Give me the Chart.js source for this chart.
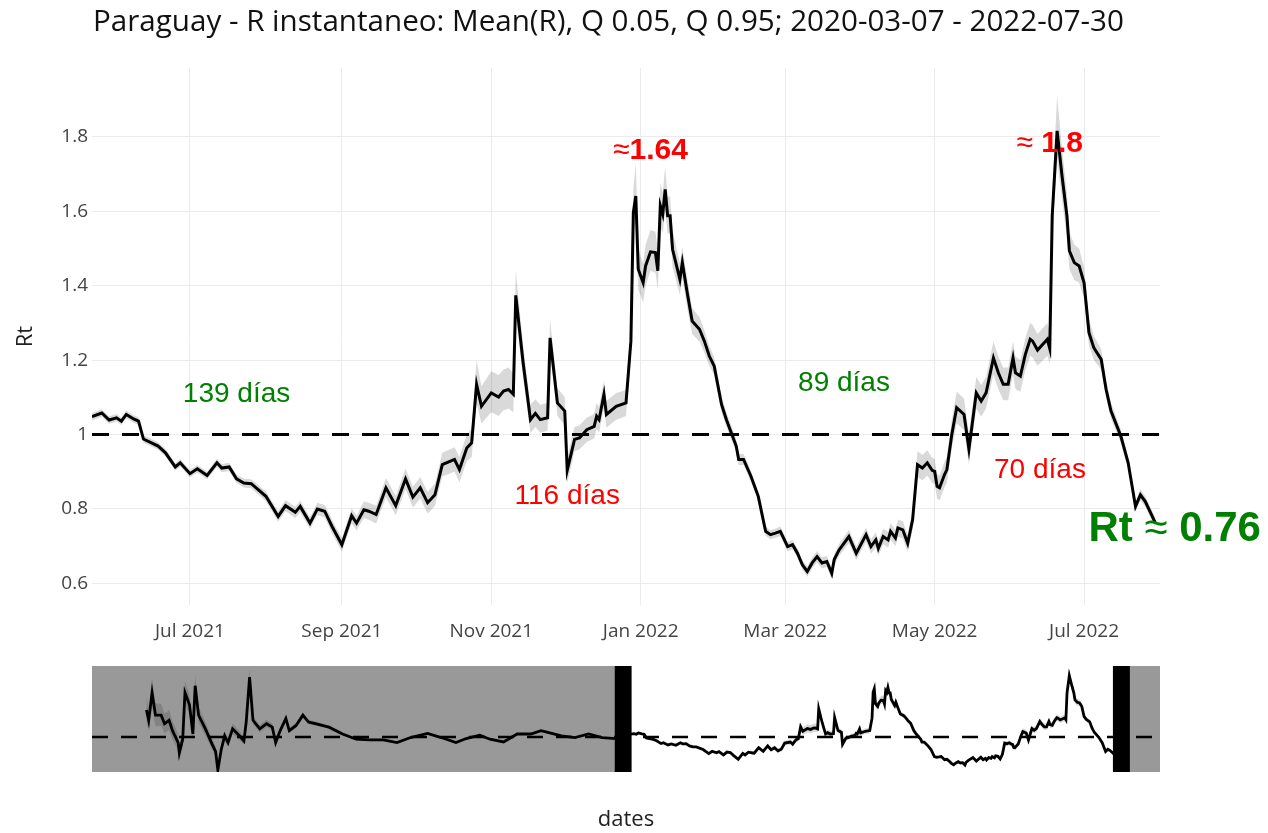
<!DOCTYPE html>
<html>
<head>
<meta charset="utf-8">
<title>Paraguay - R instantaneo</title>
<script src="https://cdn.jsdelivr.net/npm/chart.js@4.4.1/dist/chart.umd.min.js"></script>
<style>
  html, body { margin: 0; padding: 0; background: #fff; }
  #wrap { position: relative; width: 1268px; height: 833px; }
  #mainChart { position: absolute; left: 0; top: 0; }
  #sliderChart { position: absolute; left: 0; top: 650px; }
  #title { position: absolute; left: 93px; top: 2px; line-height: 36px; font-family: "Open Sans", sans-serif; font-size: 29.6px; color: #111; white-space: nowrap; }
</style>
</head>
<body>
<div id="wrap">
  <canvas id="mainChart" width="1268" height="650"></canvas>
  <canvas id="sliderChart" width="1268" height="183"></canvas>
  <div id="title">Paraguay - R instantaneo: Mean(R), Q 0.05, Q 0.95; 2020-03-07 - 2022-07-30</div>
</div>
<script>
// R instantaneo, ventana visible (mayo 2021 - julio 2022)
const mainDates = [
  '2021-05-22','2021-05-26','2021-05-29','2021-06-01','2021-06-03','2021-06-05','2021-06-08','2021-06-10','2021-06-12','2021-06-18',
  '2021-06-21','2021-06-25','2021-06-27','2021-07-01','2021-07-04','2021-07-08','2021-07-12','2021-07-14','2021-07-17','2021-07-20',
  '2021-07-23','2021-07-26','2021-08-01','2021-08-06','2021-08-09','2021-08-13','2021-08-15','2021-08-19','2021-08-22','2021-08-25',
  '2021-08-28','2021-09-01','2021-09-05','2021-09-07','2021-09-10','2021-09-12','2021-09-15','2021-09-19','2021-09-23','2021-09-27',
  '2021-09-30','2021-10-03','2021-10-06','2021-10-09','2021-10-12','2021-10-17','2021-10-19','2021-10-22','2021-10-24','2021-10-26',
  '2021-10-28','2021-11-01','2021-11-04','2021-11-06','2021-11-08','2021-11-10','2021-11-11','2021-11-14','2021-11-17','2021-11-19',
  '2021-11-21','2021-11-24','2021-11-25','2021-11-28','2021-12-01','2021-12-02','2021-12-05','2021-12-07','2021-12-10','2021-12-13',
  '2021-12-14','2021-12-15','2021-12-17','2021-12-18','2021-12-22','2021-12-26','2021-12-28','2021-12-29','2021-12-30','2021-12-31',
  '2022-01-02','2022-01-03','2022-01-05','2022-01-07','2022-01-08','2022-01-09','2022-01-10','2022-01-11','2022-01-12','2022-01-13',
  '2022-01-14','2022-01-17','2022-01-18','2022-01-20','2022-01-22','2022-01-25','2022-01-27','2022-01-29','2022-01-31','2022-02-03',
  '2022-02-05','2022-02-09','2022-02-10','2022-02-12','2022-02-15','2022-02-18','2022-02-21','2022-02-23','2022-02-25','2022-02-27',
  '2022-03-02','2022-03-04','2022-03-06','2022-03-08','2022-03-10','2022-03-12','2022-03-14','2022-03-16','2022-03-18','2022-03-20',
  '2022-03-21','2022-03-23','2022-03-27','2022-03-30','2022-04-03','2022-04-05','2022-04-07','2022-04-08','2022-04-10','2022-04-12',
  '2022-04-13','2022-04-15','2022-04-16','2022-04-18','2022-04-20','2022-04-22','2022-04-24','2022-04-26','2022-04-28','2022-04-30',
  '2022-05-01','2022-05-02','2022-05-03','2022-05-05','2022-05-06','2022-05-08','2022-05-10','2022-05-13','2022-05-15','2022-05-18',
  '2022-05-20','2022-05-22','2022-05-25','2022-05-27','2022-05-29','2022-05-31','2022-06-02','2022-06-03','2022-06-05','2022-06-07',
  '2022-06-09','2022-06-10','2022-06-12','2022-06-16','2022-06-17','2022-06-18','2022-06-20','2022-06-22','2022-06-24','2022-06-25',
  '2022-06-27','2022-06-29','2022-07-01','2022-07-03','2022-07-05','2022-07-08','2022-07-10','2022-07-12','2022-07-16','2022-07-19',
  '2022-07-22','2022-07-24','2022-07-26','2022-07-30'
];
const meanR = [
  1.048,1.058,1.039,1.045,1.036,1.054,1.042,1.036,0.988,0.969,
  0.951,0.913,0.924,0.895,0.908,0.890,0.924,0.910,0.913,0.881,
  0.870,0.868,0.834,0.780,0.809,0.791,0.807,0.762,0.800,0.794,
  0.753,0.704,0.782,0.762,0.798,0.794,0.785,0.857,0.809,0.881,
  0.832,0.857,0.817,0.838,0.919,0.933,0.906,0.964,0.978,1.135,
  1.076,1.112,1.101,1.117,1.121,1.108,1.374,1.193,1.040,1.057,
  1.040,1.045,1.260,1.085,1.063,0.904,0.987,0.991,1.013,1.022,
  1.049,1.040,1.108,1.054,1.076,1.085,1.251,1.597,1.641,1.444,
  1.408,1.453,1.491,1.489,1.440,1.615,1.592,1.659,1.588,1.588,
  1.498,1.417,1.462,1.381,1.305,1.283,1.251,1.211,1.184,1.081,
  1.040,0.969,0.933,0.933,0.888,0.834,0.740,0.731,0.735,0.740,
  0.699,0.704,0.681,0.650,0.632,0.655,0.672,0.655,0.659,0.627,
  0.664,0.690,0.726,0.681,0.731,0.699,0.717,0.694,0.726,0.717,
  0.740,0.722,0.749,0.744,0.708,0.771,0.919,0.910,0.924,0.904,
  0.901,0.861,0.857,0.892,0.906,1.000,1.072,1.054,0.961,1.112,
  1.090,1.112,1.206,1.166,1.135,1.135,1.206,1.166,1.157,1.215,
  1.256,1.251,1.227,1.256,1.231,1.588,1.816,1.695,1.588,1.494,
  1.462,1.453,1.408,1.274,1.233,1.202,1.121,1.063,0.996,0.924,
  0.807,0.838,0.820,0.764
];
const q05 = [
  1.038,1.048,1.029,1.035,1.026,1.044,1.032,1.026,0.978,0.959,
  0.941,0.903,0.914,0.885,0.898,0.880,0.913,0.899,0.902,0.870,
  0.858,0.856,0.821,0.766,0.794,0.776,0.791,0.746,0.783,0.777,
  0.735,0.686,0.762,0.742,0.776,0.771,0.761,0.831,0.783,0.853,
  0.804,0.828,0.788,0.808,0.887,0.900,0.872,0.928,0.940,1.085,
  1.030,1.060,1.050,1.065,1.070,1.060,1.320,1.150,1.005,1.020,
  1.005,1.010,1.220,1.050,1.025,0.870,0.955,0.960,0.980,0.990,
  1.015,1.005,1.070,1.018,1.040,1.050,1.210,1.540,1.580,1.390,
  1.355,1.400,1.440,1.435,1.390,1.560,1.540,1.600,1.540,1.540,
  1.450,1.375,1.420,1.340,1.270,1.250,1.220,1.185,1.160,1.060,
  1.020,0.952,0.918,0.918,0.874,0.821,0.728,0.719,0.723,0.727,
  0.686,0.691,0.668,0.637,0.618,0.641,0.657,0.640,0.644,0.612,
  0.648,0.674,0.708,0.663,0.712,0.680,0.697,0.674,0.705,0.696,
  0.718,0.700,0.726,0.721,0.685,0.745,0.885,0.877,0.890,0.870,
  0.867,0.828,0.823,0.858,0.871,0.963,1.030,1.012,0.920,1.070,
  1.048,1.070,1.162,1.122,1.092,1.092,1.162,1.122,1.115,1.172,
  1.212,1.207,1.185,1.212,1.190,1.530,1.740,1.630,1.530,1.445,
  1.415,1.408,1.365,1.240,1.200,1.175,1.098,1.042,0.978,0.908,
  0.794,0.823,0.806,0.750
];
const q95 = [
  1.058,1.068,1.049,1.055,1.046,1.064,1.052,1.046,0.998,0.979,
  0.961,0.923,0.934,0.905,0.918,0.900,0.935,0.921,0.924,0.892,
  0.882,0.880,0.847,0.794,0.824,0.806,0.823,0.778,0.817,0.811,
  0.771,0.722,0.802,0.782,0.820,0.817,0.809,0.883,0.835,0.909,
  0.860,0.886,0.846,0.868,0.951,0.966,0.940,1.000,1.016,1.200,
  1.130,1.170,1.160,1.175,1.180,1.165,1.440,1.240,1.080,1.095,
  1.080,1.085,1.310,1.125,1.100,0.940,1.020,1.025,1.045,1.055,
  1.085,1.075,1.145,1.090,1.112,1.120,1.295,1.660,1.730,1.500,
  1.460,1.510,1.550,1.545,1.495,1.675,1.650,1.720,1.640,1.640,
  1.550,1.460,1.505,1.420,1.340,1.315,1.280,1.238,1.208,1.102,
  1.060,0.986,0.948,0.948,0.902,0.847,0.752,0.743,0.747,0.753,
  0.712,0.717,0.694,0.663,0.646,0.669,0.687,0.670,0.674,0.642,
  0.680,0.706,0.744,0.699,0.750,0.718,0.737,0.714,0.747,0.738,
  0.762,0.744,0.772,0.767,0.731,0.797,0.955,0.945,0.958,0.938,
  0.935,0.895,0.890,0.926,0.941,1.040,1.115,1.097,1.003,1.155,
  1.133,1.155,1.250,1.210,1.180,1.180,1.250,1.210,1.200,1.258,
  1.300,1.295,1.270,1.300,1.275,1.650,1.910,1.770,1.650,1.545,
  1.510,1.500,1.450,1.310,1.265,1.230,1.145,1.085,1.014,0.940,
  0.820,0.853,0.834,0.778
];

// serie anterior (solo visible en el selector de rango)
const earlyDates = [
  '2020-03-28','2020-03-30','2020-04-02','2020-04-05','2020-04-10','2020-04-13','2020-04-17','2020-04-20','2020-04-25','2020-04-26',
  '2020-04-29','2020-05-01','2020-05-05','2020-05-08','2020-05-10','2020-05-13','2020-05-19','2020-05-25','2020-05-28','2020-05-30',
  '2020-06-02','2020-06-05','2020-06-08','2020-06-12','2020-06-18','2020-06-22','2020-06-24','2020-06-27','2020-06-30','2020-07-06',
  '2020-07-12','2020-07-17','2020-07-20','2020-07-24','2020-07-29','2020-08-01','2020-08-07','2020-08-13','2020-08-18','2020-08-24',
  '2020-09-05','2020-09-17','2020-09-29','2020-10-11','2020-10-23','2020-11-04','2020-11-16','2020-12-01','2020-12-13','2020-12-26',
  '2021-01-04','2021-01-16','2021-01-25','2021-02-06','2021-02-18','2021-03-02','2021-03-11','2021-03-17','2021-03-29','2021-04-10',
  '2021-04-22','2021-05-04','2021-05-16'
];
const earlyMean = [
  1.360,1.222,1.589,1.291,1.291,1.177,1.222,1.085,0.926,0.787,
  0.971,1.589,1.428,1.040,1.681,1.291,1.108,0.902,0.810,0.560,
  0.834,1.016,0.926,1.108,1.016,0.948,1.199,1.795,1.222,1.108,
  1.177,1.131,0.926,1.085,1.246,1.085,1.154,1.291,1.199,1.177,
  1.131,1.040,0.971,0.961,0.961,0.926,0.993,1.049,0.993,0.926,
  0.980,1.025,0.971,0.934,1.040,1.040,1.085,1.061,1.016,0.993,
  1.040,0.993,0.980
];
const earlyQ05 = [
  1.200,1.080,1.400,1.140,1.150,1.050,1.090,0.970,0.820,0.690,
  0.870,1.450,1.300,0.950,1.550,1.190,1.020,0.830,0.740,0.540,
  0.770,0.950,0.870,1.040,0.960,0.900,1.140,1.700,1.170,1.060,
  1.130,1.090,0.890,1.050,1.200,1.050,1.120,1.250,1.170,1.150,
  1.110,1.020,0.955,0.945,0.945,0.910,0.977,1.033,0.977,0.910,
  0.965,1.010,0.956,0.919,1.025,1.025,1.070,1.046,1.003,0.980,
  1.028,0.982,0.970
];
const earlyQ95 = [
  1.550,1.380,1.780,1.450,1.440,1.310,1.360,1.210,1.040,0.890,
  1.080,1.740,1.560,1.140,1.820,1.400,1.200,0.980,0.880,0.600,
  0.900,1.080,0.990,1.180,1.080,1.000,1.260,1.900,1.280,1.160,
  1.230,1.180,0.970,1.120,1.290,1.120,1.190,1.330,1.230,1.210,
  1.150,1.060,0.987,0.977,0.977,0.942,1.009,1.065,1.009,0.942,
  0.995,1.040,0.986,0.949,1.055,1.055,1.100,1.076,1.029,1.006,
  1.052,1.004,0.990
];

const refLevel = 1;
const viewRange = ['2021-05-22', '2022-08-01'];
const sliderRange = ['2020-02-09', '2022-09-08'];
const xTickDates = ['2021-07-01','2021-09-01','2021-11-01','2022-01-01','2022-03-01','2022-05-01','2022-07-01'];
const xTickLabels = ['Jul 2021','Sep 2021','Nov 2021','Jan 2022','Mar 2022','May 2022','Jul 2022'];
const yTicks = [0.6, 0.8, 1, 1.2, 1.4, 1.6, 1.8];
const yTickLabels = ['0.6','0.8','1','1.2','1.4','1.6','1.8'];

// anotaciones (texto, fecha y valor de anclaje)
const annoText = ['139 días', '116 días', '89 días', '70 días', '≈1.64', '≈ 1.8', 'Rt ≈ 0.76'];
const annoDate = ['2021-07-20', '2021-12-02', '2022-03-25', '2022-06-13', '2022-01-05', '2022-06-17', '2022-08-07'];
const annoValue = [1.108, 0.833, 1.137, 0.903, 1.762, 1.781, 0.744];

const GREEN = '#008000';
const RED = '#ff0000';
const annoStyle = [
  { color: GREEN, size: 28, bold: false },
  { color: RED, size: 28, bold: false },
  { color: GREEN, size: 28, bold: false },
  { color: RED, size: 28, bold: false },
  { color: RED, size: 30, bold: true },
  { color: RED, size: 30, bold: true },
  { color: GREEN, size: 42, bold: true }
];

const ARIAL = '"Liberation Sans", Arial, sans-serif';
const OPEN = '"Open Sans", sans-serif';

function day(s) {
  return Date.UTC(+s.slice(0, 4), +s.slice(5, 7) - 1, +s.slice(8, 10)) / 864e5;
}
function pts(dates, vals) {
  return dates.map((d, i) => ({ x: day(d), y: vals[i] }));
}

// dibuja las anotaciones; el signo ≈ va sin negrita
const annotationPlugin = {
  id: 'annotations',
  afterDraw(chart) {
    const ctx = chart.ctx;
    const xs = chart.scales.x, ys = chart.scales.y;
    ctx.save();
    ctx.textBaseline = 'middle';
    ctx.textAlign = 'left';
    annoText.forEach((txt, i) => {
      const st = annoStyle[i];
      const cx = xs.getPixelForValue(day(annoDate[i]));
      const cy = ys.getPixelForValue(annoValue[i]);
      const parts = txt.split(/(≈)/).filter(p => p.length);
      const fonts = parts.map(p => ((st.bold && p !== '≈') ? 'bold ' : '') + st.size + 'px ' + ARIAL);
      let total = 0;
      const widths = parts.map((p, k) => { ctx.font = fonts[k]; const w = ctx.measureText(p).width; total += w; return w; });
      let x = cx - total / 2;
      ctx.fillStyle = st.color;
      parts.forEach((p, k) => { ctx.font = fonts[k]; ctx.fillText(p, x, cy); x += widths[k]; });
    });
    ctx.restore();
  }
};

new Chart(document.getElementById('mainChart'), {
  type: 'line',
  data: {
    datasets: [{
      label: 'Q 0.95',
      data: pts(mainDates, q95),
      borderColor: 'rgba(0,0,0,0)',
      borderWidth: 1,
      backgroundColor: 'rgba(0,0,0,0.15)',
      pointRadius: 0,
      fill: '+1',
      order: 3
    }, {
      label: 'Q 0.05',
      data: pts(mainDates, q05),
      borderColor: 'rgba(0,0,0,0)',
      borderWidth: 1,
      pointRadius: 0,
      fill: false,
      order: 2
    }, {
      label: 'Mean(R)',
      data: pts(mainDates, meanR),
      borderColor: '#000',
      borderWidth: 3,
      pointRadius: 0,
      fill: false,
      order: 1
    }, {
      label: 'R = 1',
      data: [{ x: day(viewRange[0]), y: refLevel }, { x: day(viewRange[1]), y: refLevel }],
      borderColor: '#000',
      borderWidth: 3,
      borderDash: [17, 13],
      pointRadius: 0,
      fill: false,
      order: 0
    }]
  },
  options: {
    responsive: false,
    animation: false,
    devicePixelRatio: 1,
    layout: { padding: { left: 0, right: 108, top: 68, bottom: 0 } },
    plugins: { legend: { display: false }, tooltip: { enabled: false }, title: { display: false } },
    scales: {
      x: {
        type: 'linear',
        min: day(viewRange[0]),
        max: day(viewRange[1]),
        afterBuildTicks: s => { s.ticks = xTickDates.map(d => ({ value: day(d) })); },
        afterFit: s => { s.height = 45; },
        ticks: {
          callback: (v, i) => xTickLabels[i],
          color: '#444',
          font: { family: OPEN, size: 19 },
          padding: 15,
          maxRotation: 0,
          autoSkip: false
        },
        grid: { color: '#ebebeb', drawTicks: false },
        border: { display: false }
      },
      y: {
        min: 0.542,
        max: 1.985,
        afterBuildTicks: s => { s.ticks = yTicks.map(v => ({ value: v })); },
        afterFit: s => { s.width = 92; },
        ticks: {
          callback: (v, i) => yTickLabels[i],
          color: '#444',
          font: { family: OPEN, size: 19 },
          padding: 4
        },
        grid: { color: '#ebebeb', drawTicks: false },
        border: { display: false },
        title: {
          display: true,
          text: 'Rt',
          color: '#222',
          font: { family: OPEN, size: 22 },
          padding: { top: 13, bottom: 0 }
        }
      }
    }
  },
  plugins: [annotationPlugin]
});

// selector de rango: zona gris fuera de la ventana y asas negras
const HANDLE_W = 17;
const sliderPlugin = {
  id: 'rangeMask',
  handles(chart) {
    const xs = chart.scales.x;
    const l = xs.getPixelForValue(day(viewRange[0])) - 8;
    const r = xs.getPixelForValue(day(viewRange[1])) - 4;
    return [l, r];
  },
  beforeDatasetsDraw(chart) {
    const { ctx, chartArea: a } = chart;
    const [l, r] = this.handles(chart);
    ctx.save();
    ctx.fillStyle = '#999999';
    ctx.fillRect(a.left, a.top, l - a.left, a.bottom - a.top);
    ctx.fillRect(r + HANDLE_W, a.top, a.right - r - HANDLE_W, a.bottom - a.top);
    ctx.restore();
  },
  afterDatasetsDraw(chart) {
    const { ctx, chartArea: a } = chart;
    ctx.save();
    ctx.fillStyle = '#000';
    this.handles(chart).forEach(p => ctx.fillRect(p, a.top, HANDLE_W, a.bottom - a.top));
    ctx.restore();
  }
};

const allDates = earlyDates.concat(mainDates);
new Chart(document.getElementById('sliderChart'), {
  type: 'line',
  data: {
    datasets: [{
      data: pts(allDates, earlyQ95.concat(q95)),
      borderColor: 'rgba(0,0,0,0)',
      borderWidth: 1,
      backgroundColor: 'rgba(0,0,0,0.15)',
      pointRadius: 0,
      fill: '+1',
      order: 3
    }, {
      data: pts(allDates, earlyQ05.concat(q05)),
      borderColor: 'rgba(0,0,0,0)',
      borderWidth: 1,
      pointRadius: 0,
      fill: false,
      order: 2
    }, {
      data: pts(allDates, earlyMean.concat(meanR)),
      borderColor: '#000',
      borderWidth: 2.8,
      pointRadius: 0,
      fill: false,
      order: 1
    }, {
      data: [{ x: day(sliderRange[0]), y: refLevel }, { x: day(sliderRange[1]), y: refLevel }],
      borderColor: '#000',
      borderWidth: 2.5,
      borderDash: [16, 13],
      pointRadius: 0,
      fill: false,
      order: 0
    }]
  },
  options: {
    responsive: false,
    animation: false,
    devicePixelRatio: 1,
    layout: { padding: { left: 92, right: 108, top: 16, bottom: 0 } },
    plugins: { legend: { display: false }, tooltip: { enabled: false } },
    scales: {
      x: {
        type: 'linear',
        min: day(sliderRange[0]),
        max: day(sliderRange[1]),
        afterFit: s => { s.height = 61; },
        ticks: { display: false },
        grid: { display: false },
        border: { display: false },
        title: {
          display: true,
          text: 'dates',
          color: '#222',
          font: { family: OPEN, size: 22 },
          padding: { top: 0, bottom: 0 }
        }
      },
      y: { display: false, min: 0.535, max: 1.944 }
    }
  },
  plugins: [sliderPlugin]
});
</script>
</body>
</html>
